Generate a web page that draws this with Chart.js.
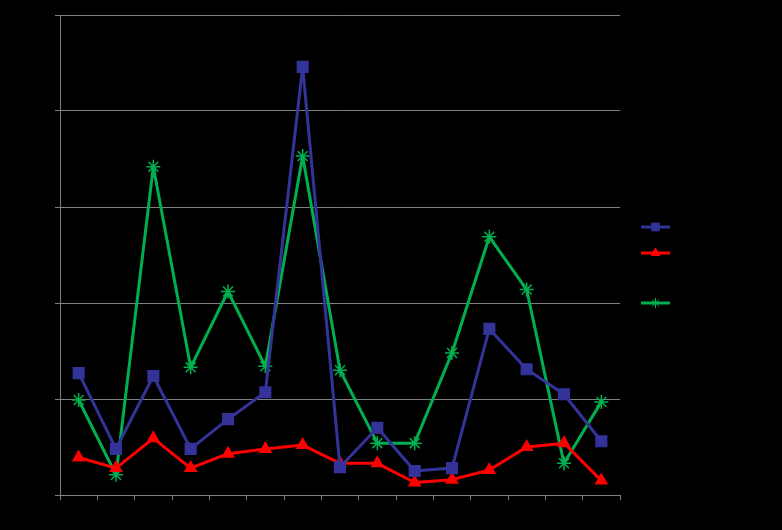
<!DOCTYPE html>
<html>
<head>
<meta charset="utf-8">
<script src="https://cdn.jsdelivr.net/npm/chart.js@4"></script>
<style>
  html, body { margin: 0; padding: 0; background: #000; }
  #wrap { width: 782px; height: 530px; }
</style>
</head>
<body>
<div id="wrap"><canvas id="lineCanvas"></canvas></div>
<script>
// categories (no visible labels in the picture)
const categories = ["1", "2", "3", "4", "5", "6", "7", "8", "9", "10", "11", "12", "13", "14", "15"];
const blueValues = [1.27, 0.48, 1.24, 0.48, 0.79, 1.07, 4.46, 0.29, 0.70, 0.25, 0.28, 1.73, 1.31, 1.05, 0.56];
const redValues = [0.39, 0.28, 0.59, 0.28, 0.43, 0.48, 0.52, 0.33, 0.33, 0.13, 0.16, 0.26, 0.50, 0.54, 0.15];
const greenValues = [0.99, 0.21, 3.42, 1.33, 2.12, 1.34, 3.53, 1.30, 0.54, 0.54, 1.48, 2.69, 2.14, 0.33, 0.97];
const yTicks = [0, 1, 2, 3, 4, 5];

const gridGray = "#808080";

// legend drawn on the right: line + marker (legend text is black like the picture)
const legendItems = [
  { color: "#333399", style: "rect", r: 5.5, y: 227 },
  { color: "#ff0000", style: "triangle", r: 5, y: 253 },
  { color: "#000000", style: false, r: 0, y: 278 },
  { color: "#00b050", style: "star", r: 5, y: 303 }
];

const sideLegend = {
  id: "sideLegend",
  afterDraw(chart) {
    const ctx = chart.ctx;
    legendItems.forEach(it => {
      ctx.save();
      ctx.strokeStyle = it.color;
      ctx.lineWidth = 3;
      ctx.beginPath();
      ctx.moveTo(641, it.y);
      ctx.lineTo(670, it.y);
      ctx.stroke();
      if (it.style) {
        ctx.fillStyle = it.color;
        ctx.strokeStyle = it.color;
        ctx.lineWidth = 1;
        Chart.helpers.drawPoint(ctx, {
          pointStyle: it.style, radius: it.r, rotation: 0, borderWidth: 1
        }, 655.5, it.y);
      }
      ctx.restore();
    });
  }
};

function series(data, color, style, radius) {
  return {
    data: data,
    borderColor: color,
    backgroundColor: color,
    borderWidth: 3,
    borderJoinStyle: "round",
    pointStyle: style,
    pointRadius: radius,
    pointHoverRadius: radius,
    pointBorderColor: color,
    pointBackgroundColor: color,
    pointBorderWidth: 1.5,
    tension: 0
  };
}

const lineChart = new Chart(document.getElementById("lineCanvas"), {
  type: "line",
  data: {
    labels: categories,
    datasets: [
      series(blueValues, "#333399", "rect", 7.5),
      series(redValues, "#ff0000", "triangle", 6.5),
      series(greenValues, "#00b050", "star", 7)
    ]
  },
  options: {
    responsive: true,
    maintainAspectRatio: false,
    animation: false,
    layout: { padding: { top: 15, right: 162, left: 0, bottom: 0 } },
    plugins: { legend: { display: false }, tooltip: { enabled: false } },
    scales: {
      x: {
        offset: true,
        grid: { offset: true, drawOnChartArea: false, drawTicks: true, tickLength: 5, color: gridGray, lineWidth: 1 },
        border: { color: gridGray, width: 1 },
        ticks: { display: false },
        afterFit: s => { s.height = 35; }
      },
      y: {
        min: 0,
        max: 5,
        afterBuildTicks: s => { s.ticks = yTicks.map(v => ({ value: v })); },
        grid: { color: gridGray, lineWidth: 1, drawTicks: true, tickLength: 5 },
        border: { color: gridGray, width: 1 },
        ticks: { display: false },
        afterFit: s => { s.width = 60; }
      }
    }
  },
  plugins: [sideLegend]
});
</script>
</body>
</html>
